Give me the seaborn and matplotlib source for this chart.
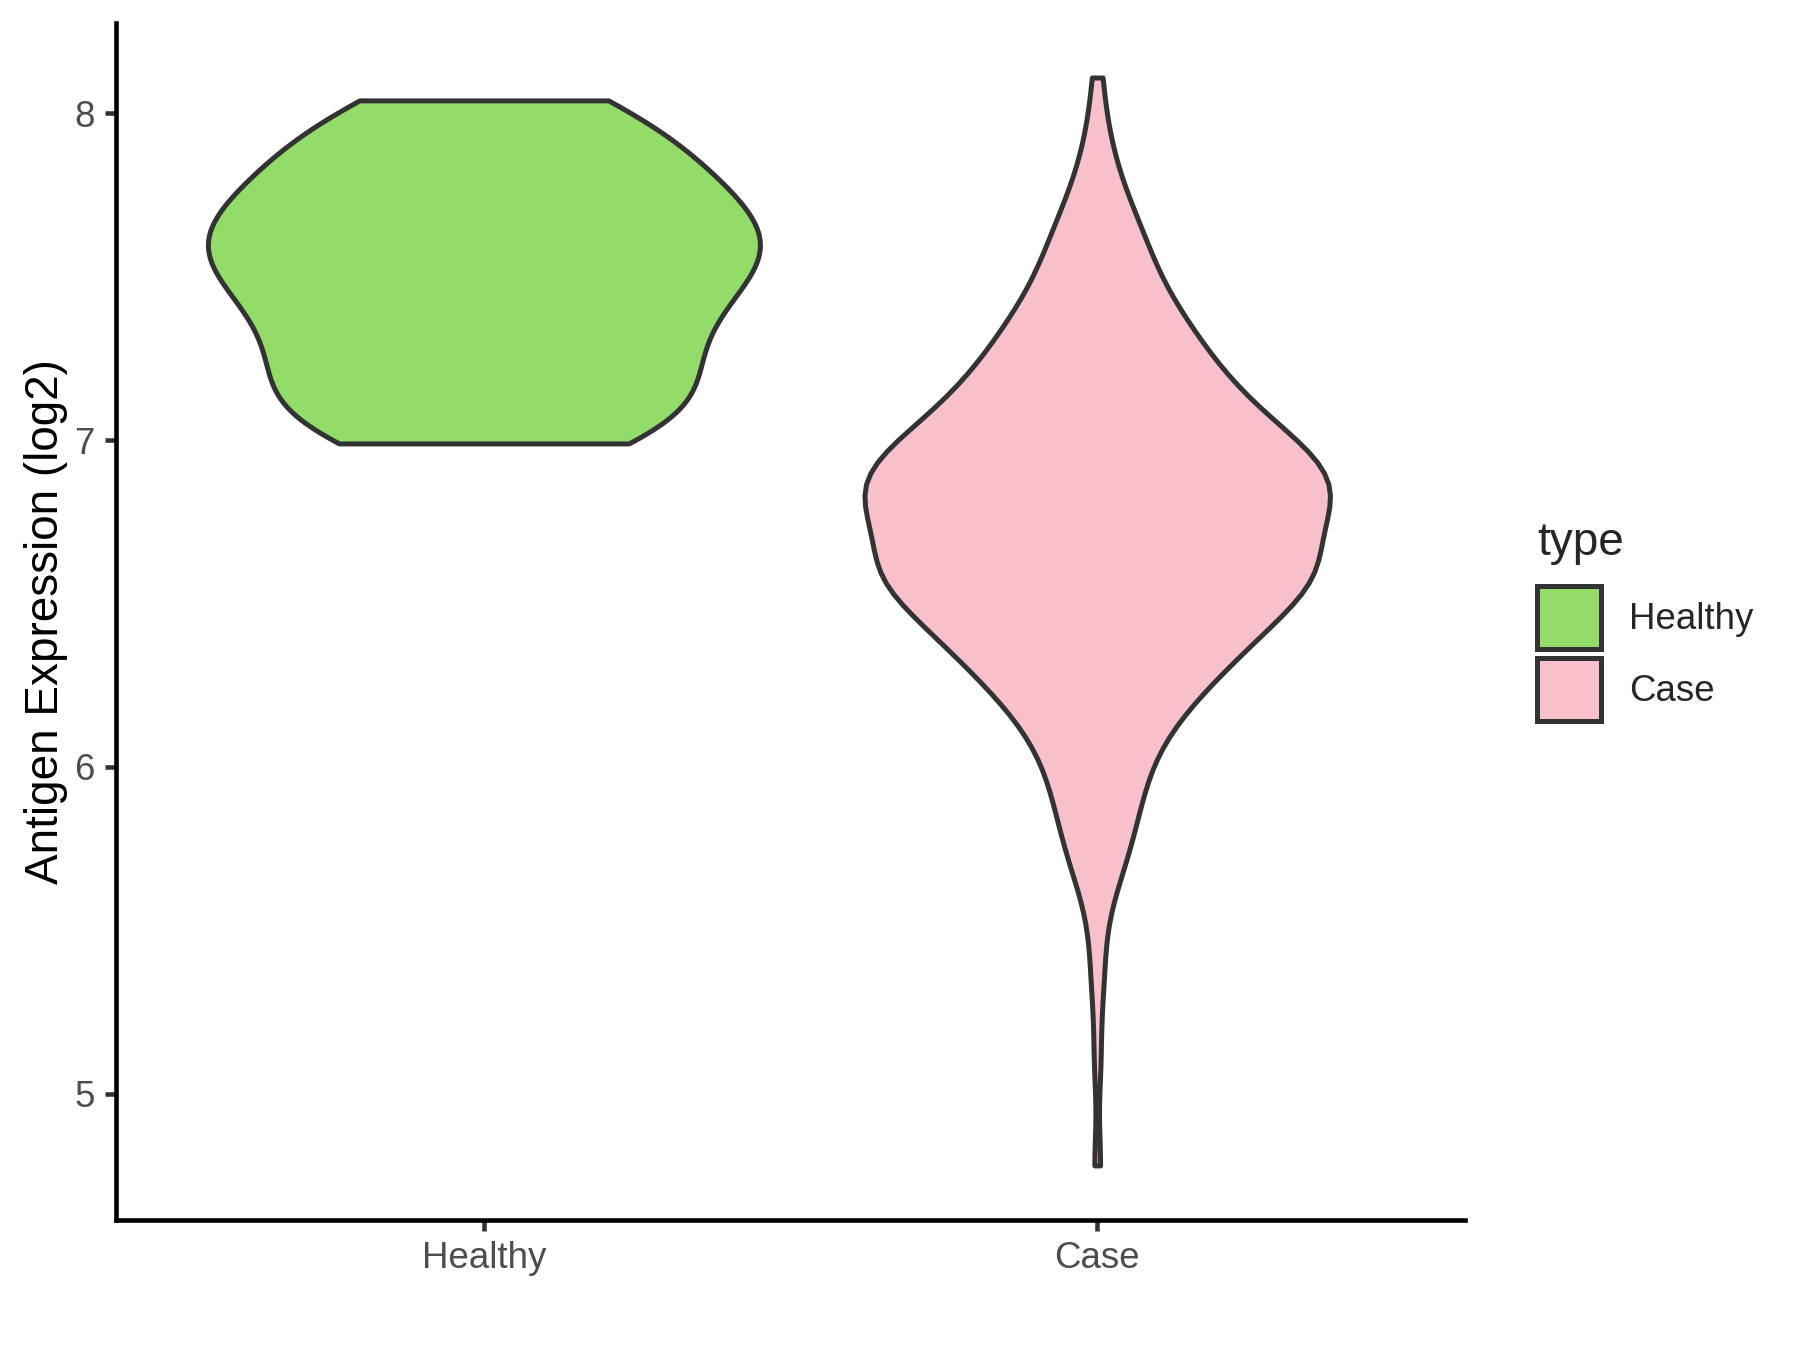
import numpy as np
import pandas as pd
import seaborn as sns
import matplotlib.pyplot as plt
from matplotlib.patches import Patch

# groups and colours
groups = ["Healthy", "Case"]
colors = ["#93DC6A", "#F7C0CB"]

# expression values (log2) with how many samples sit at each value
healthy_vals = [6.99, 7.05, 7.12, 7.2, 7.28, 7.36, 7.44, 7.5, 7.56, 7.61,
                7.66, 7.72, 7.79, 7.87, 7.95, 8.04]
healthy_counts = [1, 1, 1, 1, 1, 1, 1, 1, 1, 1, 1, 1, 1, 1, 1, 1]

case_vals = [4.78, 5.1, 5.3, 5.4, 5.5, 5.6, 5.7, 5.8, 5.9,
             6.0, 6.1, 6.2, 6.3, 6.4, 6.5, 6.6, 6.7, 6.8, 6.9, 7.0, 7.1,
             7.2, 7.3, 7.4, 7.5, 7.6, 7.7, 7.8, 7.9, 8.0, 8.11]
case_counts = [1, 1, 1, 1, 1, 2, 4, 5, 6,
               7, 9, 13, 17, 22, 26, 33, 27, 33, 33, 27, 21,
               17, 14, 11, 8, 7, 5, 3, 2, 1, 1]

df = pd.DataFrame({
    "type": ["Healthy"] * sum(healthy_counts) + ["Case"] * sum(case_counts),
    "value": np.concatenate([np.repeat(healthy_vals, healthy_counts),
                             np.repeat(case_vals, case_counts)]),
})


def nrd0(kde):
    # R's default bandwidth, given back as a factor of the std for scipy
    x = kde.dataset.ravel()
    sd = x.std(ddof=1)
    iqr = np.subtract(*np.percentile(x, [75, 25]))
    h = 0.9 * min(sd, iqr / 1.34) * len(x) ** -0.2
    return h / sd


sns.set_style("white")
plt.rcParams["font.family"] = ["Liberation Sans", "DejaVu Sans"]

fig = plt.figure(figsize=(6, 4.5), dpi=300)
ax = fig.add_axes([0.0644, 0.0963, 0.7496, 0.8867])

sns.violinplot(data=df, x="type", y="value", hue="type", order=groups,
               hue_order=groups, palette=colors, cut=0, inner=None,
               density_norm="area", common_norm=True, width=0.9,
               bw_method=nrd0, bw_adjust=0.85, linewidth=1.2,
               linecolor="#333333", saturation=1, legend=False, ax=ax)

ax.set_xlim(-0.6, 1.6)
ax.set_ylim(4.613, 8.277)
ax.set_yticks([5, 6, 7, 8])
ax.set_xlabel("")
ax.set_ylabel("Antigen Expression (log2)", fontsize=11, color="black",
              labelpad=1.5)
for s in ["top", "right"]:
    ax.spines[s].set_visible(False)
for s in ["left", "bottom"]:
    ax.spines[s].set_linewidth(1.1)
    ax.spines[s].set_color("black")
ax.tick_params(axis="both", length=2.75, width=1.1, color="#333333",
               labelsize=8.8, labelcolor="#4D4D4D", left=True, bottom=True,
               pad=2.4)

handles = [Patch(facecolor=c, edgecolor="#333333", linewidth=1.2, label=g)
           for g, c in zip(groups, colors)]
leg = fig.legend(handles=handles, title="type", loc="center left",
                 bbox_to_anchor=(0.854, 0.540), frameon=False, fontsize=8.8,
                 title_fontsize=11, handlelength=1.75, handleheight=2.28,
                 labelspacing=0.23, handletextpad=0.75, borderaxespad=0,
                 borderpad=0)
leg._legend_box.align = "left"
leg._legend_box.sep = 5

fig.savefig("out.png", dpi=300)
